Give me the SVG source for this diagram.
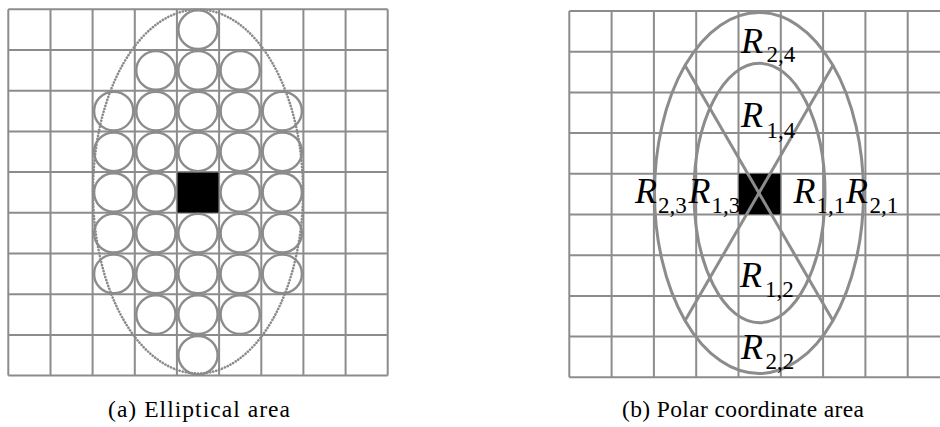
<svg xmlns="http://www.w3.org/2000/svg" width="940" height="427" viewBox="0 0 940 427">
<style>
.grid line{stroke:#8c8c8c;stroke-width:2}
.cir{fill:none;stroke:#8c8c8c;stroke-width:2.4}
.dot{fill:none;stroke:#8a8a8a;stroke-width:2.6;stroke-dasharray:0.1 3;stroke-linecap:round}
.ell{fill:none;stroke:#8c8c8c;stroke-width:3}
.R{font-family:"Liberation Serif","Times New Roman",serif;font-style:italic;font-size:36px;fill:#000}
.s{font-family:"Liberation Serif","Times New Roman",serif;font-size:23px;fill:#000}
.cap{font-family:"Liberation Serif","Times New Roman",serif;font-size:23.5px;fill:#000}
</style>
<rect width="940" height="427" fill="#fff"/>
<g id="panel-a">
<g class="grid" id="grid-a">
<line x1="8.3" y1="9.3" x2="8.3" y2="375.6"/>
<line x1="50.5" y1="9.3" x2="50.5" y2="375.6"/>
<line x1="92.6" y1="9.3" x2="92.6" y2="375.6"/>
<line x1="134.8" y1="9.3" x2="134.8" y2="375.6"/>
<line x1="176.9" y1="9.3" x2="176.9" y2="375.6"/>
<line x1="219.1" y1="9.3" x2="219.1" y2="375.6"/>
<line x1="261.3" y1="9.3" x2="261.3" y2="375.6"/>
<line x1="303.4" y1="9.3" x2="303.4" y2="375.6"/>
<line x1="345.6" y1="9.3" x2="345.6" y2="375.6"/>
<line x1="387.7" y1="9.3" x2="387.7" y2="375.6"/>
<line x1="8.3" y1="9.3" x2="387.7" y2="9.3"/>
<line x1="8.3" y1="50" x2="387.7" y2="50"/>
<line x1="8.3" y1="90.7" x2="387.7" y2="90.7"/>
<line x1="8.3" y1="131.4" x2="387.7" y2="131.4"/>
<line x1="8.3" y1="172.1" x2="387.7" y2="172.1"/>
<line x1="8.3" y1="212.8" x2="387.7" y2="212.8"/>
<line x1="8.3" y1="253.5" x2="387.7" y2="253.5"/>
<line x1="8.3" y1="294.2" x2="387.7" y2="294.2"/>
<line x1="8.3" y1="334.9" x2="387.7" y2="334.9"/>
<line x1="8.3" y1="375.6" x2="387.7" y2="375.6"/>
</g>
<rect id="center-a" x="177.5" y="172.6" width="41" height="40" fill="#000"/>
<g id="circles">
<ellipse class="cir" cx="198" cy="29.7" rx="19.6" ry="19.3"/>
<ellipse class="cir" cx="155.9" cy="70.4" rx="19.6" ry="19.3"/>
<ellipse class="cir" cx="198" cy="70.4" rx="19.6" ry="19.3"/>
<ellipse class="cir" cx="240.2" cy="70.4" rx="19.6" ry="19.3"/>
<ellipse class="cir" cx="113.7" cy="111.1" rx="19.6" ry="19.3"/>
<ellipse class="cir" cx="155.9" cy="111.1" rx="19.6" ry="19.3"/>
<ellipse class="cir" cx="198" cy="111.1" rx="19.6" ry="19.3"/>
<ellipse class="cir" cx="240.2" cy="111.1" rx="19.6" ry="19.3"/>
<ellipse class="cir" cx="282.3" cy="111.1" rx="19.6" ry="19.3"/>
<ellipse class="cir" cx="113.7" cy="151.8" rx="19.6" ry="19.3"/>
<ellipse class="cir" cx="155.9" cy="151.8" rx="19.6" ry="19.3"/>
<ellipse class="cir" cx="198" cy="151.8" rx="19.6" ry="19.3"/>
<ellipse class="cir" cx="240.2" cy="151.8" rx="19.6" ry="19.3"/>
<ellipse class="cir" cx="282.3" cy="151.8" rx="19.6" ry="19.3"/>
<ellipse class="cir" cx="113.7" cy="192.5" rx="19.6" ry="19.3"/>
<ellipse class="cir" cx="155.9" cy="192.5" rx="19.6" ry="19.3"/>
<ellipse class="cir" cx="240.2" cy="192.5" rx="19.6" ry="19.3"/>
<ellipse class="cir" cx="282.3" cy="192.5" rx="19.6" ry="19.3"/>
<ellipse class="cir" cx="113.7" cy="233.2" rx="19.6" ry="19.3"/>
<ellipse class="cir" cx="155.9" cy="233.2" rx="19.6" ry="19.3"/>
<ellipse class="cir" cx="198" cy="233.2" rx="19.6" ry="19.3"/>
<ellipse class="cir" cx="240.2" cy="233.2" rx="19.6" ry="19.3"/>
<ellipse class="cir" cx="282.3" cy="233.2" rx="19.6" ry="19.3"/>
<ellipse class="cir" cx="113.7" cy="273.9" rx="19.6" ry="19.3"/>
<ellipse class="cir" cx="155.9" cy="273.9" rx="19.6" ry="19.3"/>
<ellipse class="cir" cx="198" cy="273.9" rx="19.6" ry="19.3"/>
<ellipse class="cir" cx="240.2" cy="273.9" rx="19.6" ry="19.3"/>
<ellipse class="cir" cx="282.3" cy="273.9" rx="19.6" ry="19.3"/>
<ellipse class="cir" cx="155.9" cy="314.6" rx="19.6" ry="19.3"/>
<ellipse class="cir" cx="198" cy="314.6" rx="19.6" ry="19.3"/>
<ellipse class="cir" cx="240.2" cy="314.6" rx="19.6" ry="19.3"/>
<ellipse class="cir" cx="198" cy="355.3" rx="19.6" ry="19.3"/>
</g>
<ellipse id="dotted-area" class="dot" cx="198" cy="191.5" rx="105" ry="182"/>
<text id="cap-a" class="cap" x="108" y="417" textLength="182" lengthAdjust="spacing">(a) Elliptical area</text>
</g>
<g id="panel-b">
<g class="grid" id="grid-b">
<line x1="569.3" y1="11" x2="569.3" y2="377.3"/>
<line x1="611.6" y1="11" x2="611.6" y2="377.3"/>
<line x1="653.9" y1="11" x2="653.9" y2="377.3"/>
<line x1="696.2" y1="11" x2="696.2" y2="377.3"/>
<line x1="738.5" y1="11" x2="738.5" y2="377.3"/>
<line x1="780.8" y1="11" x2="780.8" y2="377.3"/>
<line x1="823.1" y1="11" x2="823.1" y2="377.3"/>
<line x1="865.4" y1="11" x2="865.4" y2="377.3"/>
<line x1="907.7" y1="11" x2="907.7" y2="377.3"/>
<line x1="569.3" y1="11" x2="940" y2="11"/>
<line x1="569.3" y1="51.7" x2="940" y2="51.7"/>
<line x1="569.3" y1="92.4" x2="940" y2="92.4"/>
<line x1="569.3" y1="133.1" x2="940" y2="133.1"/>
<line x1="569.3" y1="173.8" x2="940" y2="173.8"/>
<line x1="569.3" y1="214.5" x2="940" y2="214.5"/>
<line x1="569.3" y1="255.2" x2="940" y2="255.2"/>
<line x1="569.3" y1="295.9" x2="940" y2="295.9"/>
<line x1="569.3" y1="336.6" x2="940" y2="336.6"/>
<line x1="569.3" y1="377.3" x2="940" y2="377.3"/>
</g>
<rect id="center-b" x="738.8" y="173.8" width="41.5" height="40.5" fill="#000"/>
<g id="regions">
<ellipse class="ell" cx="759" cy="193" rx="104.5" ry="180.5"/>
<ellipse class="ell" cx="759.5" cy="193" rx="65.5" ry="129.7"/>
<line class="ell" x1="685.1" y1="65.4" x2="832.9" y2="320.6"/>
<line class="ell" x1="832.9" y1="65.4" x2="685.1" y2="320.6"/>
</g>
<g id="labels">
<text class="R" x="741" y="52.7">R</text><text class="s" x="766.5" y="62">2,4</text>
<text class="R" x="741" y="127.3">R</text><text class="s" x="766.5" y="137.5">1,4</text>
<text class="R" x="740" y="286.7">R</text><text class="s" x="765" y="296.5">1,2</text>
<text class="R" x="741" y="359.3">R</text><text class="s" x="765.5" y="369">2,2</text>
<text class="R" x="635" y="202.7">R</text><text class="s" x="658" y="212.5">2,3</text>
<text class="R" x="688.5" y="202.7">R</text><text class="s" x="711.5" y="212.5">1,3</text>
<text class="R" x="793.5" y="202.7">R</text><text class="s" x="816.5" y="212.5">1,1</text>
<text class="R" x="846" y="202.7">R</text><text class="s" x="869.5" y="212.5">2,1</text>
</g>
<text id="cap-b" class="cap" x="622" y="417" textLength="242" lengthAdjust="spacing">(b) Polar coordinate area</text>
</g>
</svg>
